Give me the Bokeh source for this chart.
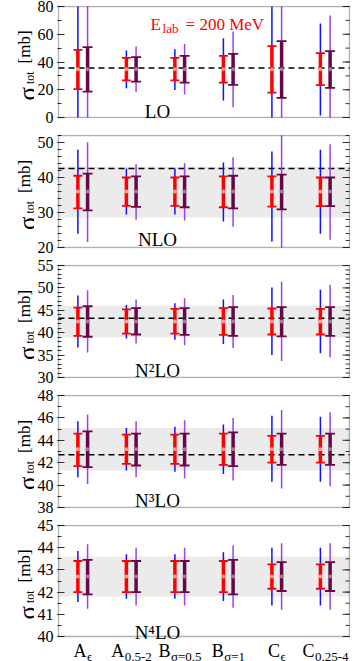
import numpy as np
from bokeh.plotting import figure
from bokeh.models import (Range1d, FixedTicker, BoxAnnotation, Label,
                          ColumnDataSource)
from bokeh.core.properties import value
from bokeh.layouts import column, row
from bokeh.embed import file_html
from bokeh.resources import INLINE

# ---------------- data ----------------
cat_base = ["A", "A", "B", "B", "C", "C"]
cat_sub = ["ϵ", "0.5-2", "σ=0.5", "σ=1", "ϵ", "0.25-4"]
order_labels = ["LO", "NLO", "N²LO", "N³LO", "N⁴LO"]

y_ranges = [(0, 80), (20, 52), (30, 55), (38, 48), (40, 45)]
tick_major = [20, 10, 5, 2, 1]
tick_minor_n = [2, 5, 5, 2, 2]

# LO
lo_center = [34.8, 34.8, 34.8, 34.8, 34.8, 34.8]
lo_red_hi = [48.8, 43.0, 43.0, 44.4, 51.4, 46.4]
lo_red_lo = [20.4, 26.7, 26.7, 25.2, 18.0, 23.3]
lo_dark_hi = [50.7, 43.5, 44.4, 45.9, 55.0, 47.8]
lo_dark_lo = [18.7, 25.9, 25.2, 23.5, 14.2, 21.4]
lo_blue_hi = [95.0, 48.3, 49.2, 57.2, 95.0, 67.7]
lo_blue_lo = [-15.0, 21.1, 19.9, 12.3, -15.0, 1.4]
lo_purple_hi = [100.0, 51.2, 52.9, 62.0, 100.0, 73.5]
lo_purple_lo = [-20.0, 18.3, 16.6, 7.4, -20.0, -2.0]
lo_dashed = 35.6

# NLO
nlo_center = [36.0, 36.0, 36.0, 36.0, 36.0, 36.0]
nlo_red_hi = [40.5, 40.0, 40.0, 40.3, 40.3, 40.0]
nlo_red_lo = [31.2, 31.9, 31.9, 31.5, 31.7, 31.8]
nlo_dark_hi = [41.1, 40.3, 40.3, 40.5, 40.8, 40.0]
nlo_dark_lo = [30.6, 31.6, 31.5, 31.2, 30.9, 31.8]
nlo_blue_hi = [47.9, 42.6, 42.6, 44.3, 47.4, 47.9]
nlo_blue_lo = [23.9, 29.4, 29.4, 27.4, 21.7, 23.9]
nlo_purple_hi = [50.1, 43.8, 44.1, 45.8, 53.5, 49.5]
nlo_purple_lo = [21.6, 27.9, 27.7, 25.9, 18.5, 22.2]
nlo_band = (28.6, 43.1)
nlo_dashed = 42.6

# N2LO
n2lo_center = [42.5, 42.5, 42.5, 42.5, 42.5, 42.5]
n2lo_red_hi = [45.6, 45.2, 45.3, 45.5, 45.4, 45.3]
n2lo_red_lo = [39.3, 39.8, 39.8, 39.5, 39.6, 39.6]
n2lo_dark_hi = [45.9, 45.5, 45.5, 45.7, 45.7, 45.7]
n2lo_dark_lo = [39.1, 39.6, 39.5, 39.3, 39.2, 39.3]
n2lo_blue_hi = [48.3, 46.2, 46.6, 47.4, 50.1, 49.6]
n2lo_blue_lo = [36.7, 38.7, 38.4, 37.5, 35.0, 35.4]
n2lo_purple_hi = [49.5, 47.4, 47.7, 48.4, 51.4, 50.7]
n2lo_purple_lo = [35.6, 37.6, 37.2, 36.6, 33.7, 34.5]
n2lo_band = (39.0, 46.0)
n2lo_dashed = 43.2

# N3LO
n3lo_center = [43.2, 43.2, 43.2, 43.2, 43.2, 43.2]
n3lo_red_hi = [44.6, 44.5, 44.5, 44.6, 44.4, 44.4]
n3lo_red_lo = [41.7, 41.9, 41.9, 41.8, 42.0, 42.0]
n3lo_dark_hi = [44.8, 44.6, 44.6, 44.7, 44.6, 44.6]
n3lo_dark_lo = [41.6, 41.75, 41.75, 41.7, 41.8, 41.8]
n3lo_blue_hi = [45.7, 45.1, 45.2, 45.4, 46.2, 46.1]
n3lo_blue_lo = [40.7, 41.3, 41.2, 41.0, 40.3, 40.3]
n3lo_purple_hi = [46.3, 45.7, 45.8, 46.0, 46.7, 46.5]
n3lo_purple_lo = [40.1, 40.7, 40.6, 40.4, 39.7, 39.9]
n3lo_band = (41.3, 45.1)
n3lo_dashed = 42.7

# N4LO
n4lo_center = [42.7, 42.7, 42.7, 42.7, 42.7, 42.7]
n4lo_red_hi = [43.4, 43.4, 43.4, 43.4, 43.25, 43.25]
n4lo_red_lo = [42.0, 42.0, 42.0, 42.0, 42.15, 42.15]
n4lo_dark_hi = [43.45, 43.4, 43.4, 43.45, 43.35, 43.35]
n4lo_dark_lo = [41.9, 42.0, 42.0, 41.9, 42.05, 42.05]
n4lo_blue_hi = [43.85, 43.7, 43.7, 43.8, 44.0, 44.0]
n4lo_blue_lo = [41.55, 41.7, 41.7, 41.6, 41.4, 41.4]
n4lo_purple_hi = [44.15, 44.0, 44.0, 44.1, 44.2, 44.2]
n4lo_purple_lo = [41.25, 41.4, 41.4, 41.3, 41.2, 41.2]
n4lo_band = (41.8, 43.6)
n4lo_dashed = None

panels = [
    dict(c=lo_center, rh=lo_red_hi, rl=lo_red_lo, dh=lo_dark_hi, dl=lo_dark_lo,
         bh=lo_blue_hi, bl=lo_blue_lo, ph=lo_purple_hi, pl=lo_purple_lo, band=None, dash=lo_dashed),
    dict(c=nlo_center, rh=nlo_red_hi, rl=nlo_red_lo, dh=nlo_dark_hi, dl=nlo_dark_lo,
         bh=nlo_blue_hi, bl=nlo_blue_lo, ph=nlo_purple_hi, pl=nlo_purple_lo, band=nlo_band, dash=nlo_dashed),
    dict(c=n2lo_center, rh=n2lo_red_hi, rl=n2lo_red_lo, dh=n2lo_dark_hi, dl=n2lo_dark_lo,
         bh=n2lo_blue_hi, bl=n2lo_blue_lo, ph=n2lo_purple_hi, pl=n2lo_purple_lo, band=n2lo_band, dash=n2lo_dashed),
    dict(c=n3lo_center, rh=n3lo_red_hi, rl=n3lo_red_lo, dh=n3lo_dark_hi, dl=n3lo_dark_lo,
         bh=n3lo_blue_hi, bl=n3lo_blue_lo, ph=n3lo_purple_hi, pl=n3lo_purple_lo, band=n3lo_band, dash=n3lo_dashed),
    dict(c=n4lo_center, rh=n4lo_red_hi, rl=n4lo_red_lo, dh=n4lo_dark_hi, dl=n4lo_dark_lo,
         bh=n4lo_blue_hi, bl=n4lo_blue_lo, ph=n4lo_purple_hi, pl=n4lo_purple_lo, band=n4lo_band, dash=n4lo_dashed),
]

# ---------------- layout / style ----------------
FONT = "Liberation Serif"
RED = "#ff0000"
DARK = "#670748"
BLUE = "#1010ff"
PURPLE = "#a040e8"
BAND = "#ebebeb"
TICK = "#333333"

PAGE_H = 661
STRIP_W = 34            # left strip holding the rotated y labels
FIG_W = 353 - STRIP_W
BOX_L, BOX_R = 55, 349  # panel box, page pixels
PX_PER_CAT = (BOX_R - BOX_L) / 6.0
DX = 1.0 / PX_PER_CAT   # one pixel in category units

# panel boxes (top, bottom) in page pixels and the canvas split
box_tb = [(6, 117), (135, 247), (265, 377), (395, 507), (525, 636)]
canvas_tb = [(0, 129), (129, 259), (259, 389), (389, 519), (519, 661)]

# approximate glyph widths (em) for centering composite labels
CW = {"A": 0.722, "B": 0.667, "C": 0.667, "ϵ": 0.44, "σ": 0.55, "=": 0.564,
      ".": 0.25, "-": 0.333}
def tw(s, size):
    return sum(CW.get(ch, 0.5) for ch in s) * size

xs = np.arange(1, len(cat_base) + 1)
OFF = 0.1

figs = []
for i, d in enumerate(panels):
    last = i == len(panels) - 1
    y0, y1 = y_ranges[i]
    btop, bbot = box_tb[i]
    ctop, cbot = canvas_tb[i]
    s = (y1 - y0) / float(bbot - btop)      # data units per pixel
    ext_bot = (cbot - bbot) if last else 1
    frame_top = btop - 1
    frame_bot = bbot + ext_bot
    def py(px):                              # page pixel -> data y
        return y1 - (px - btop) * s

    p = figure(width=FIG_W, height=cbot - ctop, output_backend="svg",
               toolbar_location=None,
               x_range=Range1d(0.5 - DX, 6.5 + DX),
               y_range=Range1d(y0 - ext_bot * s, y1 + s),
               x_axis_location=None,
               min_border_left=BOX_L - 1 - STRIP_W,
               min_border_right=353 - (BOX_R + 1),
               min_border_top=frame_top - ctop,
               min_border_bottom=cbot - frame_bot)
    p.grid.visible = False
    p.outline_line_color = None
    p.background_fill_color = "white"
    p.border_fill_color = "white"

    majors = list(np.arange(y0, y1 + 1e-9, tick_major[i]))
    minors = list(np.arange(y0, y1 + 1e-9, tick_major[i] / tick_minor_n[i]))
    ax = p.yaxis[0]
    ax.ticker = FixedTicker(ticks=majors, minor_ticks=minors)
    ax.axis_line_color = None
    ax.major_tick_in = 7
    ax.major_tick_out = 0
    ax.minor_tick_in = 4
    ax.minor_tick_out = 0
    ax.major_tick_line_color = TICK
    ax.minor_tick_line_color = TICK
    ax.major_label_text_font = FONT
    ax.major_label_text_font_size = "16px"
    ax.major_label_text_color = "black"
    ax.major_label_standoff = 4

    # right-hand inward ticks
    p.segment(x0=6.5 - 7 * DX, x1=6.5, y0=majors, y1=majors, line_color=TICK, line_width=1)
    p.segment(x0=6.5 - 4 * DX, x1=6.5, y0=minors, y1=minors, line_color=TICK, line_width=1)

    if d["band"] is not None:
        p.add_layout(BoxAnnotation(left=0.5, right=6.5, bottom=d["band"][0], top=d["band"][1],
                                   fill_color=BAND, fill_alpha=1.0, line_color=None,
                                   level="underlay"))
    if d["dash"] is not None:
        p.line(x=[0.5, 6.5], y=[d["dash"], d["dash"]], line_color="black",
               line_width=1.5, line_dash="6 4")

    xr = xs - OFF
    xd = xs + OFF
    src = ColumnDataSource(dict(xr=xr, xd=xd, c=d["c"], rh=d["rh"], rl=d["rl"],
                                dh=d["dh"], dl=d["dl"],
                                bh=np.minimum(d["bh"], y1), bl=np.maximum(d["bl"], y0),
                                ph=np.minimum(d["ph"], y1), pl=np.maximum(d["pl"], y0)))
    p.segment(x0="xr", y0="bl", x1="xr", y1="bh", source=src, line_color=BLUE, line_width=1.5)
    p.segment(x0="xd", y0="pl", x1="xd", y1="ph", source=src, line_color=PURPLE, line_width=1.5)
    p.segment(x0="xr", y0="rl", x1="xr", y1="rh", source=src, line_color=RED, line_width=3.5)
    p.scatter(x="xr", y="rh", source=src, marker="dash", size=9, line_color=RED, line_width=1.8)
    p.scatter(x="xr", y="rl", source=src, marker="dash", size=9, line_color=RED, line_width=1.8)
    p.segment(x0="xd", y0="dl", x1="xd", y1="dh", source=src, line_color=DARK, line_width=3.5)
    p.scatter(x="xd", y="dh", source=src, marker="dash", size=10, line_color=DARK, line_width=1.8)
    p.scatter(x="xd", y="dl", source=src, marker="dash", size=10, line_color=DARK, line_width=1.8)
    p.scatter(x="xr", y="c", source=src, marker="circle", size=4, fill_color="#ff9c9c", line_color=None)
    p.scatter(x="xd", y="c", source=src, marker="circle", size=4, fill_color="#a77a98", line_color=None)

    # panel box
    p.add_layout(BoxAnnotation(left=0.5, right=6.5, bottom=y0, top=y1, fill_color=None,
                               line_color="black", line_width=1.5, level="overlay"))

    # order label
    lift = [6, 8, 7, 7, 4][i]
    p.add_layout(Label(x=0.5 + (155 - BOX_L) * DX, y=py(bbot - lift), text=order_labels[i],
                       text_font=FONT, text_font_size="19px", text_align="center",
                       text_baseline="alphabetic", text_color="black"))

    if i == 0:
        ex = 0.5 + (148 - BOX_L) * DX
        p.add_layout(Label(x=ex, y=py(24), text="E", text_font=FONT,
                           text_font_size="17px", text_color=RED, text_align="left",
                           text_baseline="alphabetic"))
        p.add_layout(Label(x=ex, y=py(28), x_offset=12, text="lab", text_font=FONT,
                           text_font_size="13px", text_color=RED, text_align="left",
                           text_baseline="alphabetic"))
        p.add_layout(Label(x=ex, y=py(24), x_offset=35, text="= 200 MeV", text_font=FONT,
                           text_font_size="17px", text_color=RED, text_align="left",
                           text_baseline="alphabetic"))

    if last:
        junction = [(tw(cat_base[k], 18) - tw(cat_sub[k], 13)) / 2 for k in range(len(cat_base))]
        lsrc = ColumnDataSource(dict(x=xs.astype(float), base=cat_base, sub=cat_sub,
                                     jo=junction, so=[j + 0.5 for j in junction],
                                     yb=[py(650)] * len(xs), ys=[py(656)] * len(xs)))
        p.text(x="x", y="yb", text="base", x_offset="jo", source=lsrc,
               text_font=value(FONT), text_font_size="18px", text_align="right",
               text_baseline="alphabetic", text_color="black")
        p.text(x="x", y="ys", text="sub", x_offset="so", source=lsrc,
               text_font=value(FONT), text_font_size="13px", text_align="left",
               text_baseline="alphabetic", text_color="black")
    figs.append(p)

# left strip with the rotated y-axis labels (y = pixels measured from page bottom)
strip = figure(width=STRIP_W, height=PAGE_H, output_backend="svg", toolbar_location=None,
               x_range=Range1d(0, STRIP_W), y_range=Range1d(0, PAGE_H),
               x_axis_location=None, y_axis_location=None,
               min_border_left=0, min_border_right=0, min_border_top=0, min_border_bottom=0)
strip.grid.visible = False
strip.outline_line_color = None
strip.border_fill_color = "white"
centers = [(t + b) / 2.0 for t, b in box_tb]
ysrc = ColumnDataSource(dict(
    ys=[PAGE_H - (c + 38.5) for c in centers], yt=[PAGE_H - (c + 22.0) for c in centers],
    ym=[PAGE_H - (c + 1.5) for c in centers],
    sig=["σ"] * 5, tot=["tot"] * 5, mb=["[mb]"] * 5))
strip.text(x=26.5, y="ys", text="sig", source=ysrc, angle=np.pi / 2,
           text_font=value(FONT), text_font_size="25px", text_align="left",
           text_baseline="alphabetic", text_color="black")
strip.text(x=29.5, y="yt", text="tot", source=ysrc, angle=np.pi / 2,
           text_font=value(FONT), text_font_size="12px", text_align="left",
           text_baseline="alphabetic", text_color="black")
strip.text(x=23.5, y="ym", text="mb", source=ysrc, angle=np.pi / 2,
           text_font=value(FONT), text_font_size="17px", text_align="left",
           text_baseline="alphabetic", text_color="black")

layout = row(strip, column(*figs, spacing=0), spacing=0)
open("out.html", "w").write(file_html(layout, INLINE))
